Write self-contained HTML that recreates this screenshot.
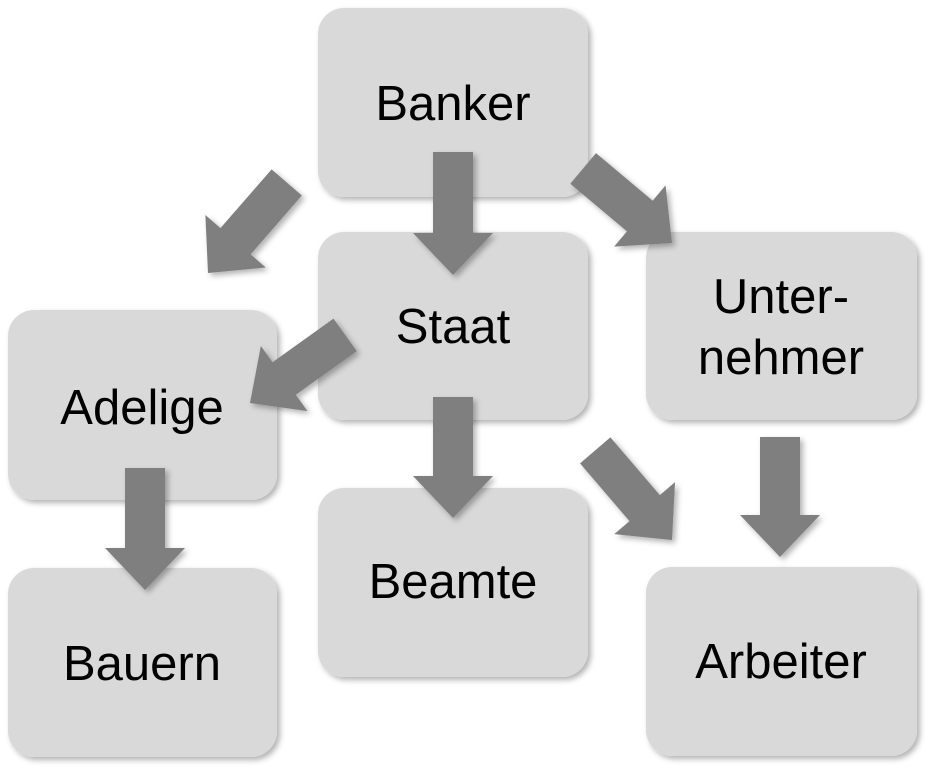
<!DOCTYPE html>
<html><head><style>
html,body{margin:0;padding:0;background:#fff;}
</style></head><body>
<svg width="932" height="772" viewBox="0 0 932 772" xmlns="http://www.w3.org/2000/svg">
<defs>
<filter id="sh" x="-10%" y="-10%" width="125%" height="125%">
<feDropShadow dx="3" dy="3" stdDeviation="3" flood-color="#000" flood-opacity="0.3"/>
</filter>
</defs>
<g fill="#d9d9d9" filter="url(#sh)">
<rect x="318" y="8" width="270" height="189" rx="26"/>
<rect x="318" y="232" width="270" height="188" rx="26"/>
<rect x="646" y="232" width="271" height="188" rx="26"/>
<rect x="8" y="310" width="269" height="190" rx="26"/>
<rect x="8" y="568" width="269" height="189" rx="26"/>
<rect x="318" y="488" width="270" height="189" rx="26"/>
<rect x="646" y="567" width="271" height="189" rx="26"/>
</g>
<g fill="#7f7f7f" filter="url(#sh)">
<g transform="translate(453,275) rotate(90)"><polygon points="-42,-40 0,0 -42,40"/><rect x="-123" y="-20" width="82" height="40"/></g>
<g transform="translate(453,518) rotate(90)"><polygon points="-42,-40 0,0 -42,40"/><rect x="-121" y="-20" width="80" height="40"/></g>
<g transform="translate(780,557) rotate(90)"><polygon points="-42,-40 0,0 -42,40"/><rect x="-120" y="-20" width="79" height="40"/></g>
<g transform="translate(145,590) rotate(90)"><polygon points="-42,-40 0,0 -42,40"/><rect x="-122" y="-20" width="81" height="40"/></g>
<g transform="translate(208,273) rotate(131)"><polygon points="-42,-40 0,0 -42,40"/><rect x="-120" y="-20" width="79" height="40"/></g>
<g transform="translate(672,243) rotate(40)"><polygon points="-42,-40 0,0 -42,40"/><rect x="-116" y="-20" width="75" height="40"/></g>
<g transform="translate(250,403) rotate(144.4)"><polygon points="-42,-40 0,0 -42,40"/><rect x="-117" y="-20" width="76" height="40"/></g>
<g transform="translate(672,540) rotate(49.4)"><polygon points="-42,-40 0,0 -42,40"/><rect x="-118" y="-20" width="77" height="40"/></g>
</g>
<g font-family="Liberation Sans, Arial, sans-serif" font-size="49" fill="#000" text-anchor="middle">
<text x="453" y="120">Banker</text>
<text x="453" y="343">Staat</text>
<text x="781" y="313">Unter-</text>
<text x="781" y="374">nehmer</text>
<text x="142" y="424">Adelige</text>
<text x="142" y="680">Bauern</text>
<text x="453" y="598">Beamte</text>
<text x="781" y="678">Arbeiter</text>
</g>
</svg>
</body></html>
